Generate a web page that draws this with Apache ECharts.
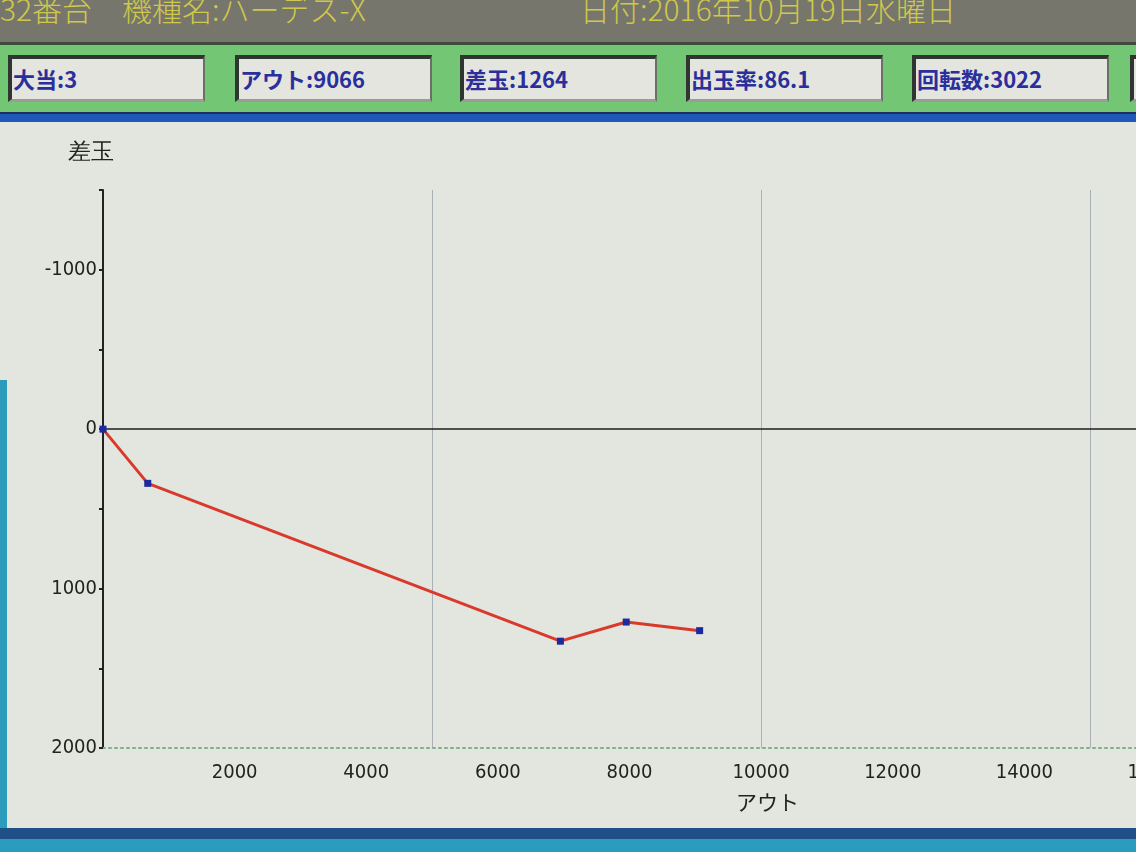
<!DOCTYPE html>
<html>
<head>
<meta charset="utf-8">
<script src="https://cdn.jsdelivr.net/npm/echarts@6/dist/echarts.min.js"></script>
<style>
html, body { margin: 0; padding: 0; }
body {
  width: 1136px; height: 852px; overflow: hidden; position: relative;
  background: #e3e6de;
  font-family: "Noto Sans CJK JP", "DejaVu Sans", sans-serif;
}
.topbar {
  position: absolute; left: 0; top: 0; width: 1136px; height: 42px;
  background: #77766d; color: #cfc84a; font-size: 30px; line-height: 30px;
  white-space: nowrap; overflow: hidden; font-weight: 300;
}
.topbar span { position: absolute; top: -7px; }
.band {
  position: absolute; left: 0; top: 42px; width: 1136px; height: 70px;
  background: #72c674; border-top: 3px solid #3d4a3d; box-sizing: border-box;
}
.box {
  position: absolute; top: 10px; width: 197px; height: 47px; box-sizing: border-box;
  background: #e4e5df; border-top: 4px solid #2f3530; border-left: 4px solid #2f3530;
  border-bottom: 3px solid #9a9c96; border-right: 2px solid #6a7068;
  color: #2a2f9c; font-size: 22px; font-weight: bold; line-height: 38px; padding-left: 1px;
  white-space: nowrap; overflow: hidden;
}
.stripe {
  position: absolute; left: 0; top: 112px; width: 1136px; height: 10px;
  background: #1f58b8; border-top: 2px solid #1a2f60; box-sizing: border-box;
}
#chart { position: absolute; left: 0; top: 122px; width: 1136px; height: 706px; }
.bottom1 { position: absolute; left: 0; top: 828px; width: 1136px; height: 11px; background: #1e4f86; }
.bottom2 { position: absolute; left: 0; top: 839px; width: 1136px; height: 13px; background: #2c9cbc; }
.leftedge { position: absolute; left: 0; top: 380px; width: 7px; height: 460px; background: #2c9cbc; }
</style>
</head>
<body>
<div class="topbar"><span style="left:0">32番台　機種名:ハーデス-X</span><span style="left:580px">日付:2016年10月19日水曜日</span></div>
<div class="band">
  <div class="box" style="left:8px">大当:3</div>
  <div class="box" style="left:235px">アウト:9066</div>
  <div class="box" style="left:460px">差玉:1264</div>
  <div class="box" style="left:686px">出玉率:86.1</div>
  <div class="box" style="left:912px">回転数:3022</div>
  <div class="box" style="left:1130px"></div>
</div>
<div class="stripe"></div>
<div id="chart"></div>
<div class="leftedge"></div>
<div class="bottom1"></div>
<div class="bottom2"></div>
<script>
// アウト / 差玉 推移
const outValues = [0, 680, 6950, 7950, 9066]
const diffValues = [0, 340, 1330, 1210, 1264]
const xLabels = [2000, 4000, 6000, 8000, 10000, 12000, 14000, 16000]
const yLabels = [-1000, 0, 1000, 2000]

const labelFont = '"DejaVu Sans Condensed", "Liberation Sans Narrow", sans-serif'
const chart = echarts.init(document.getElementById('chart'))
chart.setOption({
  animation: false,
  grid: { left: 103, right: -20, top: 68, bottom: 80, outerBoundsMode: 'none' },
  xAxis: [{
    type: 'value',
    min: 0,
    max: 16000,
    interval: 2000,
    axisLine: { onZero: false, lineStyle: { color: '#7fb08a', type: [2, 4], width: 2 } },
    axisTick: { show: false },
    splitLine: { show: false },
    axisLabel: {
      color: '#222', fontSize: 20, fontFamily: labelFont, margin: 15,
      formatter: v => xLabels.includes(v) ? String(v) : ''
    }
  }, {
    type: 'value',
    min: 0,
    max: 16000,
    interval: 5000,
    axisLine: { show: false },
    axisTick: { show: false },
    axisLabel: { show: false },
    splitLine: { show: true, lineStyle: { color: '#a9b0b6', width: 1 } }
  }],
  yAxis: {
    type: 'value',
    inverse: true,
    min: -1500,
    max: 2000,
    interval: 500,
    name: '差玉',
    nameLocation: 'start',
    nameGap: 26,
    nameTextStyle: { color: '#222', fontSize: 23, align: 'right', padding: [0, -11, 0, 0] },
    axisLine: { onZero: false, lineStyle: { color: '#222', width: 2 } },
    axisTick: { show: true, length: 4, inside: false, lineStyle: { color: '#222', width: 2 } },
    splitLine: { show: false },
    axisLabel: {
      color: '#222', fontSize: 20, fontFamily: labelFont, margin: 6,
      formatter: v => yLabels.includes(v) ? String(v) : ''
    }
  },
  graphic: [{
    type: 'text', left: 736, top: 670,
    style: { text: 'アウト', fontSize: 21, fill: '#222', fontFamily: 'Noto Sans CJK JP' }
  }],
  series: [{
    type: 'line',
    data: outValues.map((x, i) => [x, diffValues[i]]),
    lineStyle: { color: '#d93a2c', width: 3 },
    symbol: 'rect',
    symbolSize: 7,
    itemStyle: { color: '#1b2a9e' },
    z: 5,
    markLine: {
      silent: true,
      symbol: 'none',
      label: { show: false },
      lineStyle: { color: '#1e1e1e', width: 1.5, type: 'solid' },
      data: [{ yAxis: 0 }]
    }
  }]
})
</script>
</body>
</html>
